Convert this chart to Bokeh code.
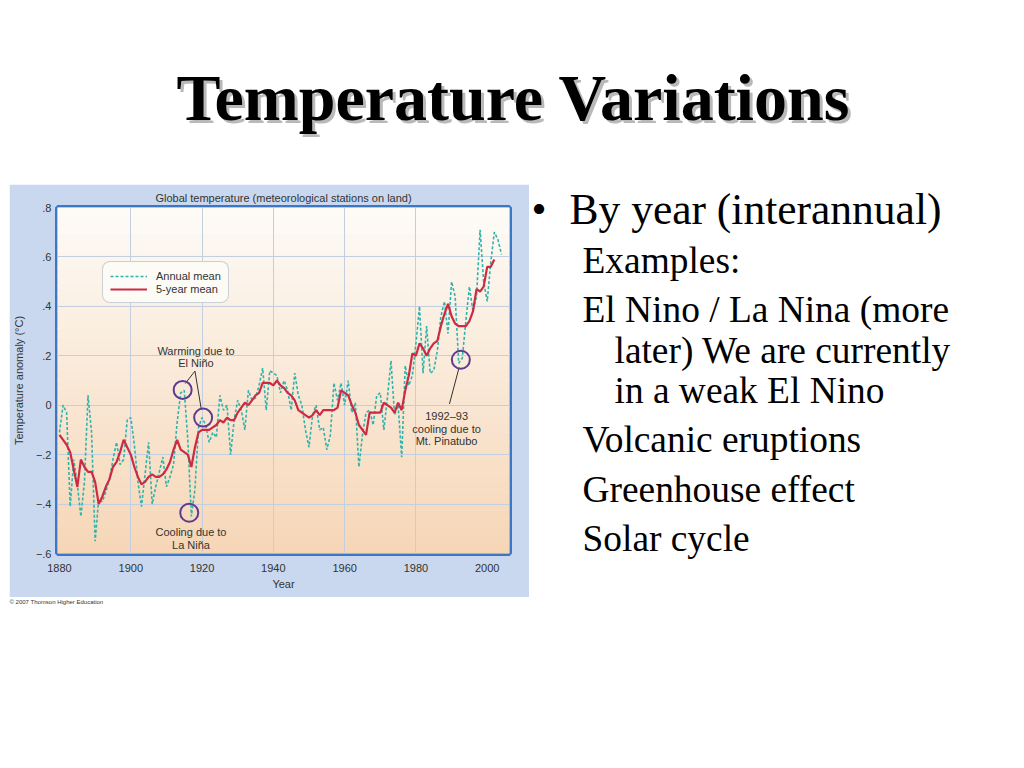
import numpy as np
from bokeh.plotting import figure
from bokeh.models import Range1d, FixedTicker, Spacer, Label
from bokeh.layouts import column, row
from bokeh.core.properties import value
from bokeh.embed import file_html
from bokeh.resources import INLINE

# ---------------- data ----------------
annual_years = list(range(1880, 2005))
annual_mean = [
    -0.11, 0.00, -0.03, -0.41, -0.22, -0.32, -0.45, -0.31, 0.04, -0.11,
    -0.55, -0.38, -0.39, -0.35, -0.30, -0.22, -0.15, -0.24, -0.22, -0.06,
    -0.05, -0.16, -0.31, -0.41, -0.28, -0.15, -0.40, -0.33, -0.27, -0.21,
    -0.33, -0.29, -0.24, -0.07, 0.05, 0.06, -0.14, -0.45, -0.34, -0.09,
    -0.05, -0.08, -0.15, -0.11, -0.13, 0.04, -0.02, 0.00, -0.20, -0.06,
    0.02, -0.02, -0.10, 0.06, 0.02, 0.03, 0.08, 0.15, -0.02, 0.14,
    0.13, 0.12, 0.05, 0.10, 0.06, -0.02, 0.13, 0.04, 0.00, -0.10,
    -0.17, -0.04, 0.00, -0.10, -0.09, -0.18, -0.12, 0.09, 0.02, 0.09,
    0.00, 0.10, -0.03, 0.01, -0.25, -0.12, -0.03, -0.02, -0.08, 0.04,
    0.05, -0.10, 0.03, 0.18, -0.04, 0.00, -0.21, 0.16, 0.08, 0.12,
    0.25, 0.40, 0.13, 0.32, 0.13, 0.14, 0.22, 0.36, 0.42, 0.29,
    0.50, 0.44, 0.17, 0.19, 0.34, 0.48, 0.38, 0.44, 0.71, 0.50,
    0.42, 0.58, 0.70, 0.67, 0.61,
]
five_year_years = list(range(1880, 2003))
five_year_mean = [
    -0.12, -0.14, -0.16, -0.19, -0.26, -0.33, -0.22, -0.25, -0.27, -0.27,
    -0.31, -0.40, -0.37, -0.33, -0.30, -0.25, -0.23, -0.19, -0.14, -0.17,
    -0.20, -0.25, -0.29, -0.32, -0.31, -0.29, -0.28, -0.29, -0.29, -0.28,
    -0.26, -0.23, -0.18, -0.14, -0.18, -0.19, -0.20, -0.25, -0.17, -0.11,
    -0.10, -0.10, -0.10, -0.09, -0.08, -0.06, -0.07, -0.05, -0.06, -0.06,
    -0.03, -0.01, 0.01, 0.00, 0.02, 0.04, 0.05, 0.09, 0.09, 0.09,
    0.08, 0.10, 0.08, 0.07, 0.05, 0.04, 0.02, -0.02, -0.03, -0.04,
    -0.05, -0.04, -0.02, -0.04, -0.02, -0.02, -0.02, -0.02, -0.01, 0.06,
    0.05, 0.04, 0.00, -0.03, -0.08, -0.10, -0.12, -0.03, -0.03, -0.03,
    -0.03, 0.01, 0.00, -0.01, -0.03, 0.01, -0.02, 0.06, 0.12, 0.21,
    0.20, 0.25, 0.23, 0.20, 0.23, 0.25, 0.26, 0.32, 0.37, 0.41,
    0.36, 0.33, 0.32, 0.32, 0.32, 0.34, 0.38, 0.47, 0.46, 0.48,
    0.56, 0.56, 0.59,
]

x_ticks = [1880, 1900, 1920, 1940, 1960, 1980, 2000]
x_grid = [1900, 1920, 1940, 1960, 1980]
y_ticks = [-0.6, -0.4, -0.2, 0.0, 0.2, 0.4, 0.6, 0.8]
y_tick_labels = ["\u2212.6", "\u2212.4", "\u2212.2", "0", ".2", ".4", ".6", ".8"]
y_grid = [-0.4, -0.2, 0.0, 0.2, 0.4, 0.6]

# annotation circles (year, anomaly)
circle_years = [1914.55, 1920.3, 1916.4, 1992.6]
circle_vals = [0.062, -0.05, -0.435, 0.184]
# leader lines
lead_x0 = [1918.0, 1918.0, 1992.1]
lead_y0 = [0.138, 0.138, 0.152]
lead_x1 = [1915.3, 1919.8, 1989.4]
lead_y1 = [0.088, -0.018, 0.005]
# annotation texts
note_text = ["Warming due to", "El Ni\u00f1o", "Cooling due to", "La Ni\u00f1a",
             "1992\u201393", "cooling due to", "Mt. Pinatubo"]
note_x = [1918.3, 1918.3, 1916.9, 1916.9, 1988.6, 1988.6, 1988.6]
note_y = [0.219, 0.170, -0.511, -0.564, -0.045, -0.097, -0.146]

slide_title = "Temperature Variations"
chart_title = "Global temperature (meteorological stations on land)"
bullet_main = "By year (interannual)"
sub_items = ["Examples:", "El Nino / La Nina (more", "later) We are currently",
             "in a weak El Nino", "Volcanic eruptions", "Greenhouse effect", "Solar cycle"]
copyright_text = "\u00a9 2007 Thomson Higher Education"

SANS = "Liberation Sans"
SERIF = "Liberation Serif"
O = 1  # page origin offset


def blank(width, height, xr, yr, **kw):
    f = figure(width=width, height=height, x_range=Range1d(*xr), y_range=Range1d(*yr),
               x_axis_type=None, y_axis_type=None, output_backend="svg", title=None,
               toolbar_location=None, outline_line_color=None,
               background_fill_color="white", border_fill_color="white", **kw)
    f.grid.visible = False
    return f


# ---------------- title figure ----------------
tf = blank(1016 - O, 185 - O, (O, 1016), (185, O), min_border=0)
tf.text(x=[517], y=[101], text=[slide_title], text_font=value(SERIF), text_font_size="66px",
        text_font_style="bold", text_align="center", text_baseline="alphabetic",
        text_color="#8a8a8a", text_alpha=0.6)
tf.text(x=[514], y=[98], text=[slide_title], text_font=value(SERIF), text_font_size="66px",
        text_font_style="bold", text_align="center", text_baseline="alphabetic",
        text_color="black")

# ---------------- chart figure ----------------
x0, x1 = 1879.44, 2006.25
p = figure(width=520, height=413, x_range=Range1d(x0, x1), y_range=Range1d(-0.6, 0.8),
           output_backend="svg", toolbar_location=None,
           min_border_left=46, min_border_right=20, min_border_top=23, min_border_bottom=44,
           border_fill_color="#c9d8ee", background_fill_color="#fdfbf6",
           outline_line_color="#3b77c4", outline_line_width=5, title=chart_title)
p.title.align = "center"
p.title.text_font = SANS
p.title.text_font_size = "11px"
p.title.text_font_style = "normal"
p.title.text_color = "#333333"
p.title.standoff = 7

# background gradient
n = 40
edges = np.linspace(-0.6, 0.8, n + 1)
mids = (edges[:-1] + edges[1:]) / 2
frac = (mids + 0.6) / 1.4
top_rgb = np.array([253, 251, 247])
bot_rgb = np.array([246, 214, 182])
cols = ["#%02x%02x%02x" % tuple(int(round(c)) for c in (bot_rgb + (top_rgb - bot_rgb) * f))
        for f in frac]
p.quad(left=x0, right=x1, bottom=edges[:-1], top=edges[1:], fill_color=cols,
       line_color=cols, line_width=1, level="image")

p.xgrid.ticker = FixedTicker(ticks=x_grid)
p.ygrid.ticker = FixedTicker(ticks=y_grid)
p.grid.grid_line_color = "#c3cedf"
p.grid.grid_line_width = 1

p.xaxis.ticker = FixedTicker(ticks=x_ticks)
p.yaxis.ticker = FixedTicker(ticks=y_ticks)
p.yaxis.major_label_overrides = {t: l for t, l in zip(y_ticks, y_tick_labels)}
for ax in (p.xaxis, p.yaxis):
    ax.axis_line_color = None
    ax.major_tick_line_color = None
    ax.minor_tick_line_color = None
    ax.major_tick_out = 0
    ax.major_tick_in = 0
    ax.minor_tick_out = 0
    ax.minor_tick_in = 0
    ax.major_label_text_font = SANS
    ax.major_label_text_font_size = "11px"
    ax.major_label_text_color = "#333333"
    ax.axis_label_text_font = SANS
    ax.axis_label_text_font_size = "11px"
    ax.axis_label_text_font_style = "normal"
    ax.axis_label_text_color = "#333333"
p.xaxis.axis_label = "Year"
p.yaxis.axis_label = "Temperature anomaly (\u00b0C)"
p.xaxis.major_label_standoff = 10
p.xaxis.axis_label_standoff = 3
p.yaxis.major_label_standoff = 6
p.yaxis.axis_label_standoff = 8

p.line(annual_years, annual_mean, line_color="#2fb3ad", line_width=1.6, line_dash="3 2",
       legend_label="Annual mean")
p.line(five_year_years, five_year_mean, line_color="#cc2b42", line_width=2.2,
       legend_label="5-year mean")

p.segment(x0=lead_x0, y0=lead_y0, x1=lead_x1, y1=lead_y1, line_color="#333333", line_width=1)
p.scatter(circle_years, circle_vals, marker="circle", size=18, fill_color=None,
          line_color="#5e3a90", line_width=2)
p.text(x=note_x, y=note_y, text=note_text, text_font=value(SANS), text_font_size="11px",
       text_align="center", text_baseline="middle", text_color="#333333")

lg = p.legend[0]
lg.location = (45, 250)
lg.background_fill_color = "#fdfbf7"
lg.background_fill_alpha = 0.95
lg.border_line_color = "#9aa5b3"
lg.border_line_width = 1.2
lg.label_text_font = SANS
lg.label_text_font_size = "11px"
lg.label_text_color = "#333333"
lg.glyph_width = 37
lg.glyph_height = 12
lg.label_standoff = 9
lg.padding = 7
lg.spacing = 0
lg.margin = 0
lg.label_height = 13
try:
    lg.border_radius = 8
except Exception:
    pass

# ---------------- bullet text figure ----------------
bf = blank(486, 413, (530, 1016), (598, 185), min_border=0)
bf.add_layout(Label(x=532, y=209, text="\u2022", text_font=SERIF, text_font_size="43px",
                    text_align="left", text_baseline="alphabetic", text_color="black"))
bf.add_layout(Label(x=570, y=209, text=bullet_main, text_font=SERIF, text_font_size="43.5px",
                    text_align="left", text_baseline="alphabetic", text_color="black"))
sub_x = [583, 583, 615, 615, 583, 583, 583]
sub_y = [272, 321, 362, 402, 451, 501, 550]
for sx, sy, st in zip(sub_x, sub_y, sub_items):
    bf.add_layout(Label(x=sx, y=sy - 11, text=st, text_font=SERIF, text_font_size="37.4px",
                        text_align="left", text_baseline="alphabetic", text_color="black"))

# ---------------- footer (copyright) ----------------
ff = blank(1016 - O, 160, (O, 1016), (758, 598), min_border=0)
ff.text(x=[10], y=[602], text=[copyright_text], text_font=value(SANS), text_font_size="6px",
        text_align="left", text_baseline="middle", text_color="#333333")

layout = column(tf, row(Spacer(width=10 - O, height=413), p, column(bf)), ff)
open("out.html", "w").write(file_html(layout, INLINE))
